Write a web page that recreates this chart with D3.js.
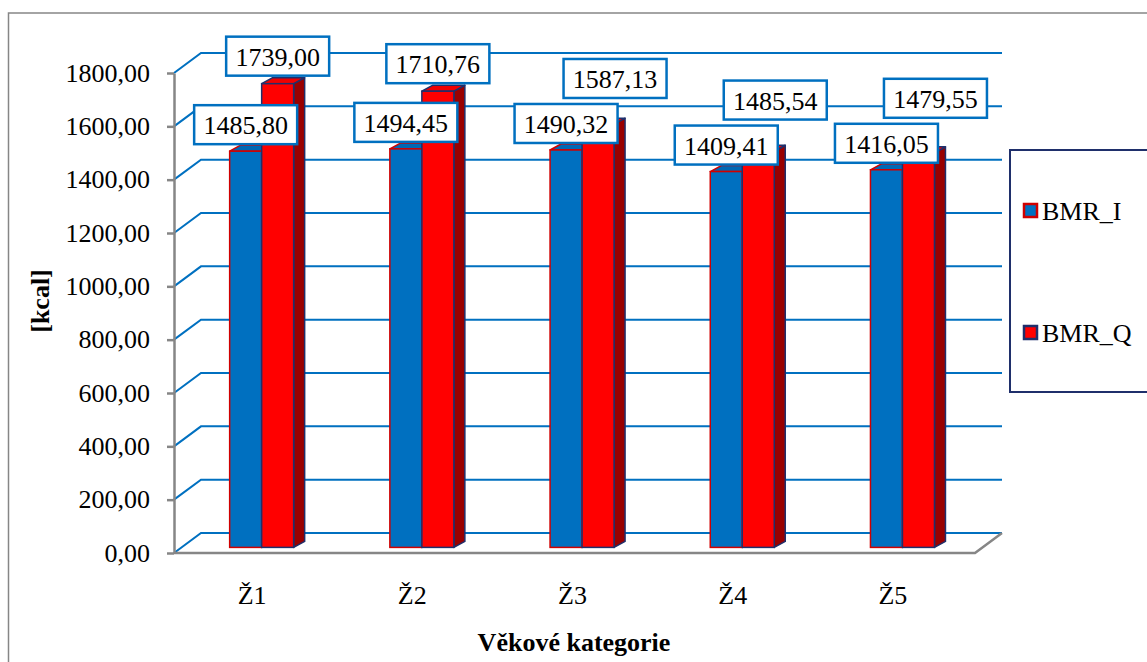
<!DOCTYPE html>
<html>
<head>
<meta charset="utf-8">
<script src="https://cdn.jsdelivr.net/npm/d3@7"></script>
<style>
  body { margin: 0; background: #fff; }
  text { font-family: "Liberation Serif", "Times New Roman", serif; fill: #000; }
</style>
</head>
<body>
<div id="chart"></div>
<script>
const categories = ["Ž1", "Ž2", "Ž3", "Ž4", "Ž5"];
const seriesNames = ["BMR_I", "BMR_Q"];
const bmrI = [1485.80, 1494.45, 1490.32, 1409.41, 1416.05];
const bmrQ = [1739.00, 1710.76, 1587.13, 1485.54, 1479.55];
const yTicks = [0, 200, 400, 600, 800, 1000, 1200, 1400, 1600, 1800];

const width = 1147, height = 662;
// plot box (front plane) and depth of the 3d wall
const plot = {left: 174, right: 975, top: 73, bottom: 553};
const depth = {dx: 27, dy: -20};
const barDepth = 0.28; // where the bars sit inside the floor
const side = {dx: 11, dy: -6};

const blue = "#0070C0", red = "#FF0000", darkRed = "#990000", navy = "#1F2F6B", axisGrey = "#868686";
const fontSize = 26;

const cz = d3.formatLocale({decimal: ",", thousands: "", grouping: [3], currency: ["", " Kč"]});
const fmt = cz.format(".2f");

const svg = d3.select("#chart").append("svg")
    .attr("width", width)
    .attr("height", height);

// outer chart frame
svg.append("rect")
    .attr("x", 8.5).attr("y", 13)
    .attr("width", 1200).attr("height", 700)
    .attr("fill", "none")
    .attr("stroke", axisGrey)
    .attr("stroke-width", 1.5);

const y = d3.scaleLinear().domain([0, 1800]).range([plot.bottom, plot.top]);
const x = d3.scaleBand().domain(categories).range([plot.left, plot.right]);
const xInner = d3.scaleBand().domain(seriesNames).range([0, 64]);

// back wall gridlines
svg.selectAll(".grid")
    .data(yTicks)
    .enter()
    .append("path")
    .attr("class", "grid")
    .attr("d", function(d) {
        const yy = y(d);
        return "M" + plot.left + "," + yy + "L" + (plot.left + depth.dx) + "," + (yy + depth.dy) +
            "L" + (plot.right + depth.dx) + "," + (yy + depth.dy);
    })
    .attr("fill", "none")
    .attr("stroke", blue)
    .attr("stroke-width", 2);

// floor edges
svg.append("path")
    .attr("d", "M" + plot.left + "," + plot.bottom + "L" + plot.right + "," + plot.bottom +
        "L" + (plot.right + depth.dx) + "," + (plot.bottom + depth.dy))
    .attr("fill", "none")
    .attr("stroke", axisGrey)
    .attr("stroke-width", 2.5);

// y axis
const yAxis = d3.axisLeft(y)
    .tickValues(yTicks)
    .tickFormat(fmt)
    .tickSize(7)
    .tickSizeOuter(0)
    .tickPadding(17);

const gy = svg.append("g")
    .attr("transform", "translate(" + plot.left + ",0)")
    .call(yAxis)
    .attr("font-family", null)
    .attr("font-size", null);
gy.select(".domain").attr("stroke", axisGrey).attr("stroke-width", 2.5);
gy.selectAll(".tick line").attr("stroke", axisGrey).attr("stroke-width", 2.5);
gy.selectAll(".tick text")
    .attr("font-size", fontSize)
    .attr("fill", "#000");

// bars
const bx = depth.dx * barDepth, by = depth.dy * barDepth;
const yBar = function(v) { return y(v) + by; };

const rows = categories.map(function(c, i) {
    return {cat: c, values: [
        {name: "BMR_I", value: bmrI[i], fill: blue, top: "#0068B4", stroke: "#D00000", sideFill: "#004F8A"},
        {name: "BMR_Q", value: bmrQ[i], fill: red, top: "#F00000", stroke: navy, sideFill: darkRed}
    ]};
});

function barShapes(g, c, d) {
    const x0 = x(c) + x.bandwidth() / 2 - 32 + bx + xInner(d.name);
    const x1 = x0 + xInner.bandwidth();
    const y0 = yBar(0), y1 = yBar(d.value);
    // side
    g.append("path")
        .attr("d", "M" + x1 + "," + y1 + "L" + (x1 + side.dx) + "," + (y1 + side.dy) +
            "L" + (x1 + side.dx) + "," + (y0 + side.dy) + "L" + x1 + "," + y0 + "Z")
        .attr("fill", d.sideFill)
        .attr("stroke", d.stroke)
        .attr("stroke-width", 1.5)
        .attr("stroke-linejoin", "round");
    // top
    g.append("path")
        .attr("d", "M" + x0 + "," + y1 + "L" + (x0 + side.dx) + "," + (y1 + side.dy) +
            "L" + (x1 + side.dx) + "," + (y1 + side.dy) + "L" + x1 + "," + y1 + "Z")
        .attr("fill", d.top)
        .attr("stroke", d.stroke)
        .attr("stroke-width", 1.5)
        .attr("stroke-linejoin", "round");
    // front
    g.append("rect")
        .attr("x", x0).attr("y", y1)
        .attr("width", x1 - x0).attr("height", y0 - y1)
        .attr("fill", d.fill)
        .attr("stroke", d.stroke)
        .attr("stroke-width", 1.5);
}

const groups = svg.selectAll(".cat")
    .data(rows)
    .enter()
    .append("g")
    .attr("class", "cat");

groups.each(function(r) {
    const g = d3.select(this);
    r.values.forEach(function(d) { barShapes(g, r.cat, d); });
});

// category labels
svg.selectAll(".catLabel")
    .data(categories)
    .enter()
    .append("text")
    .attr("class", "catLabel")
    .attr("x", function(d) { return x(d) + x.bandwidth() / 2 - 2; })
    .attr("y", 604)
    .attr("text-anchor", "middle")
    .attr("font-size", fontSize)
    .text(function(d) { return d; });

// data labels, the taller one moves up and right when it would hit the other box
const boxW = 103, boxH = 39;
const labels = [];
rows.forEach(function(r) {
    const cx0 = x(r.cat) + x.bandwidth() / 2 - 32 + bx;
    const a = r.values[0], b = r.values[1];
    const aBottom = yBar(a.value) - 7;
    const aCx = cx0 + xInner(a.name) + xInner.bandwidth() / 2;
    labels.push({v: a.value, cx: aCx, bottom: aBottom});
    let bBottom = yBar(b.value) - 8;
    let bCx = cx0 + xInner(b.name) + xInner.bandwidth() / 2;
    if (bBottom > aBottom - boxH - 6) {
        bBottom = aBottom - boxH - 6;
        bCx += 17;
    }
    labels.push({v: b.value, cx: bCx, bottom: bBottom});
});

const lab = svg.selectAll(".dataLabel")
    .data(labels)
    .enter()
    .append("g")
    .attr("class", "dataLabel");

lab.append("rect")
    .attr("x", function(d) { return d.cx - boxW / 2; })
    .attr("y", function(d) { return d.bottom - boxH; })
    .attr("width", boxW)
    .attr("height", boxH)
    .attr("fill", "#fff")
    .attr("stroke", blue)
    .attr("stroke-width", 2.5);

lab.append("text")
    .attr("x", function(d) { return d.cx; })
    .attr("y", function(d) { return d.bottom - boxH / 2 + 1; })
    .attr("text-anchor", "middle")
    .attr("dominant-baseline", "central")
    .attr("font-size", fontSize)
    .text(function(d) { return fmt(d.v); });

// axis titles
svg.append("text")
    .attr("x", 574)
    .attr("y", 651)
    .attr("text-anchor", "middle")
    .attr("font-size", fontSize)
    .attr("font-weight", "bold")
    .text("Věkové kategorie");

svg.append("text")
    .attr("transform", "translate(49,301) rotate(-90)")
    .attr("text-anchor", "middle")
    .attr("font-size", fontSize)
    .attr("font-weight", "bold")
    .text("[kcal]");

// legend
svg.append("rect")
    .attr("x", 1010).attr("y", 150)
    .attr("width", 200).attr("height", 242)
    .attr("fill", "#fff")
    .attr("stroke", navy)
    .attr("stroke-width", 2);

const legendY = d3.scalePoint().domain(seriesNames).range([210.5, 332.5]);
const legendStyle = {
    BMR_I: {fill: blue, stroke: "#D00000"},
    BMR_Q: {fill: red, stroke: navy}
};

const leg = svg.selectAll(".legendItem")
    .data(seriesNames)
    .enter()
    .append("g")
    .attr("class", "legendItem")
    .attr("transform", function(d) { return "translate(1023," + legendY(d) + ")"; });

leg.append("rect")
    .attr("x", 1).attr("y", -6.5)
    .attr("width", 13).attr("height", 13)
    .attr("fill", function(d) { return legendStyle[d].fill; })
    .attr("stroke", function(d) { return legendStyle[d].stroke; })
    .attr("stroke-width", 2.5);

leg.append("text")
    .attr("x", 19)
    .attr("y", 1)
    .attr("dominant-baseline", "central")
    .attr("font-size", fontSize)
    .text(function(d) { return d; });
</script>
</body>
</html>
